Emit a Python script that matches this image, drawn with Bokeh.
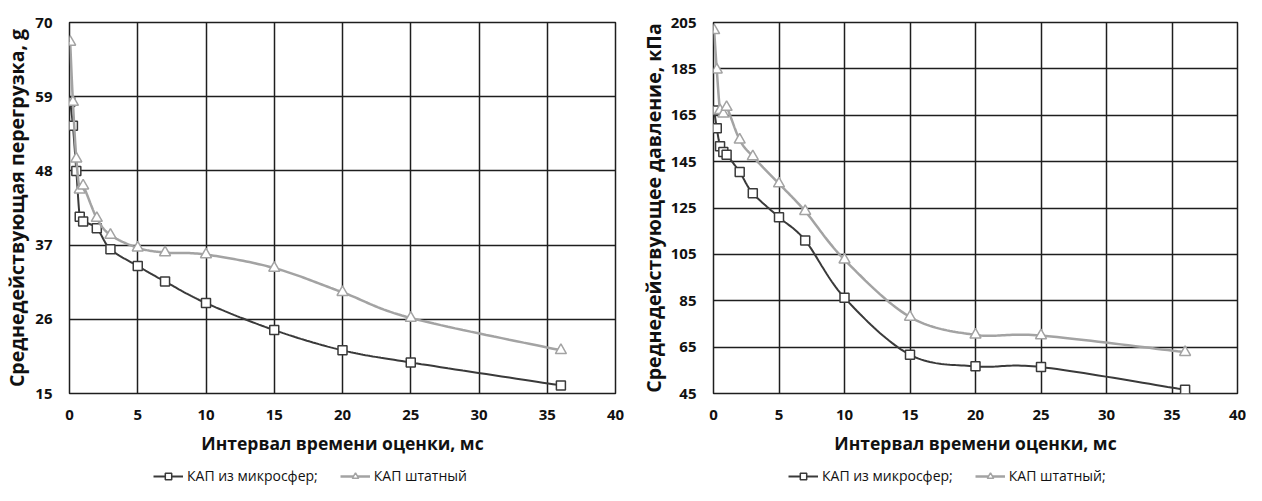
import numpy as np
from bokeh.plotting import figure
from bokeh.models import Range1d, FixedTicker, Legend, LegendItem
from bokeh.layouts import row, column
from bokeh.embed import file_html
from bokeh.resources import INLINE

# ---- data ----
x_ms = [0.05, 0.25, 0.5, 0.75, 1, 2, 3, 5, 7, 10, 15, 20, 25, 36]
g_micro = [58.2, 54.7, 48.0, 41.2, 40.5, 39.5, 36.4, 33.9, 31.6, 28.4, 24.4, 21.4, 19.6, 16.2]
g_std = [67.1, 58.2, 49.8, 45.2, 45.8, 41.0, 38.5, 36.6, 35.9, 35.6, 33.6, 30.0, 26.2, 21.4]
p_micro = [167.1, 159.4, 151.6, 149.1, 148.0, 140.5, 131.4, 121.0, 111.0, 86.3, 61.7, 56.7, 56.4, 46.6]
p_std = [201.6, 184.6, 167.1, 165.6, 168.5, 154.4, 147.2, 135.5, 123.6, 102.7, 78.0, 70.3, 70.0, 62.8]

x_ticks = [0, 5, 10, 15, 20, 25, 30, 35, 40]
g_ticks = [15, 26, 37, 48, 59, 70]
p_ticks = [45, 65, 85, 105, 125, 145, 165, 185, 205]

x_title = "Интервал времени оценки, мс"
g_title = "Среднедействующая перегрузка, g"
p_title = "Среднедействующее давление, кПа"
leg_left = ["КАП из микросфер;", "КАП штатный"]
leg_right = ["КАП из микросфер;", "КАП штатный;"]

FONT = "Open Sans"
DARK = "#3a3a3a"
LIGHT = "#a3a3a3"
INK = "#111111"
H_MAIN = 465
H_LEG = 20


def smooth(xs, ys, n=24):
    """Smoothed path through the data points (Catmull-Rom style Bezier)."""
    P = np.column_stack([xs, ys]).astype(float)
    ext = np.vstack([P[0], P, P[-1]])
    t = np.linspace(0, 1, n)[:, None]
    out = []
    for i in range(len(P) - 1):
        p0, p1, p2, p3 = ext[i], ext[i + 1], ext[i + 2], ext[i + 3]
        c1 = p1 + (p2 - p0) / 6.0
        c2 = p2 - (p3 - p1) / 6.0
        seg = (1 - t) ** 3 * p1 + 3 * (1 - t) ** 2 * t * c1 + 3 * (1 - t) * t ** 2 * c2 + t ** 3 * p2
        out.append(seg if i == 0 else seg[1:])
    arr = np.vstack(out)
    return arr[:, 0], arr[:, 1]


def draw_series(p, s1, s2):
    sx1, sy1 = smooth(x_ms, s1)
    sx2, sy2 = smooth(x_ms, s2)
    l1 = p.line(sx1, sy1, line_color=DARK, line_width=2)
    m1 = p.scatter(x_ms, s1, marker="square", size=9, fill_color="white",
                   line_color=DARK, line_width=1.5)
    l2 = p.line(sx2, sy2, line_color=LIGHT, line_width=2.5)
    m2 = p.scatter(x_ms, s2, marker="triangle", size=11, fill_color="white",
                   line_color=LIGHT, line_width=1.5)
    return l1, m1, l2, m2


def make_fig(width, yr, yticks, ytitle, s1, s2, b_left, b_right, b_top, b_bottom, y_ls):
    p = figure(width=width, height=H_MAIN, x_range=Range1d(0, 40), y_range=Range1d(*yr),
               output_backend="svg", toolbar_location=None, title_location=None,
               min_border_left=b_left, min_border_right=b_right,
               min_border_top=b_top, min_border_bottom=b_bottom)
    p.outline_line_color = "#1e1e1e"
    p.outline_line_width = 1.5

    p.xaxis.ticker = FixedTicker(ticks=x_ticks)
    p.yaxis.ticker = FixedTicker(ticks=yticks)
    p.xgrid.ticker = FixedTicker(ticks=x_ticks)
    p.ygrid.ticker = FixedTicker(ticks=yticks)
    for g in (p.xgrid, p.ygrid):
        g.grid_line_color = "#1e1e1e"
        g.grid_line_width = 1.5
        g.grid_line_alpha = 1.0

    for ax in (p.xaxis, p.yaxis):
        ax.axis_line_color = None
        ax.major_tick_line_color = None
        ax.minor_tick_line_color = None
        ax.major_tick_in = 0
        ax.major_tick_out = 0
        ax.minor_tick_in = 0
        ax.minor_tick_out = 0
        ax.major_label_text_font = FONT
        ax.major_label_text_font_style = "bold"
        ax.major_label_text_font_size = "15px"
        ax.major_label_text_color = INK
        ax.axis_label_text_font = FONT
        ax.axis_label_text_font_style = "bold"
        ax.axis_label_text_color = INK

    p.xaxis.axis_label = x_title
    p.xaxis.axis_label_text_font_size = "17.5px"
    p.xaxis.major_label_standoff = 16
    p.xaxis.axis_label_standoff = 8
    p.yaxis.axis_label = ytitle
    p.yaxis.axis_label_text_font_size = "19.5px"
    p.yaxis.major_label_standoff = 17
    p.yaxis.axis_label_standoff = y_ls

    draw_series(p, s1, s2)
    return p


def make_legend_fig(width, s1, s2, labels, leg_x):
    q = figure(width=width, height=H_LEG, x_range=Range1d(0, 40), y_range=Range1d(1000, 1001),
               output_backend="svg", toolbar_location=None, title_location=None,
               min_border=0)
    q.axis.visible = False
    q.grid.visible = False
    q.outline_line_color = None
    l1, m1, l2, m2 = draw_series(q, s1, s2)
    legend = Legend(items=[LegendItem(label=labels[0], renderers=[l1, m1]),
                           LegendItem(label=labels[1], renderers=[l2, m2])],
                    location=(leg_x, 0), orientation="horizontal",
                    padding=0, margin=0, spacing=22, label_standoff=4,
                    glyph_width=30, glyph_height=16,
                    border_line_color=None, background_fill_alpha=0,
                    label_text_font=FONT, label_text_font_size="14px",
                    label_text_color=INK)
    q.add_layout(legend, "center")
    return q


W1, W2 = 628, 618
p1 = make_fig(W1, (15, 70), g_ticks, g_title, g_micro, g_std, 69, 13, 15, H_MAIN - 394, 2)
p2 = make_fig(W2, (45, 205), p_ticks, p_title, p_micro, p_std, 85, 9, 22, H_MAIN - 393, 1)
lg1 = make_legend_fig(W1, g_micro, g_std, leg_left, 153)
lg2 = make_legend_fig(W2, p_micro, p_std, leg_right, 788 - W1)

layout = column(row(p1, p2), row(lg1, lg2))
open("out.html", "w").write(file_html(layout, INLINE))
